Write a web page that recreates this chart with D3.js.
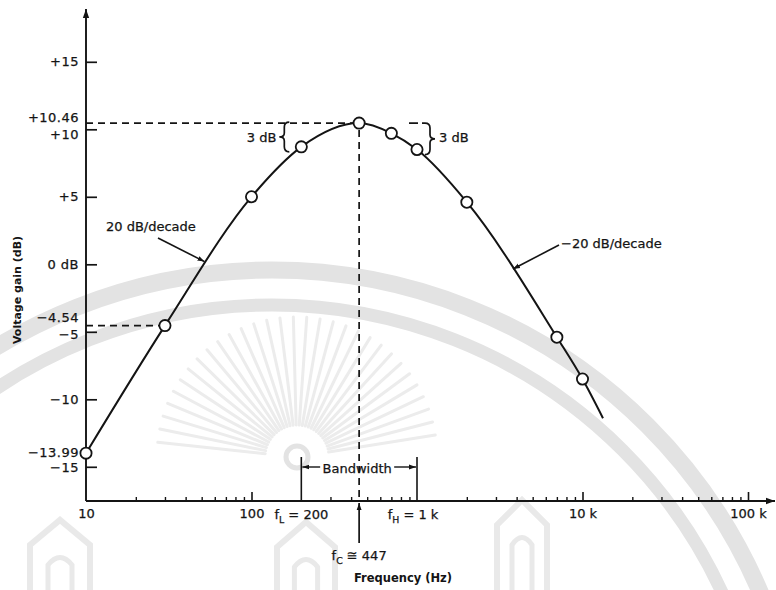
<!DOCTYPE html>
<html>
<head>
<meta charset="utf-8">
<script src="https://cdn.jsdelivr.net/npm/d3@7"></script>
<style>
  html, body { margin: 0; padding: 0; background: #fff; }
  svg { display: block; }
  text { font-family: "DejaVu Sans", "Liberation Sans", Arial, sans-serif; fill: #141414; }
</style>
</head>
<body>
<svg id="chart" width="776" height="590"></svg>
<script>
// Gain of the band-pass network: frequency (Hz) and voltage gain (dB)
const freqHz = [10, 30, 100, 200, 447, 700, 1000, 2000, 7000, 10000];
const gainDb = [-13.99, -4.54, 5.0, 8.7, 10.46, 9.7, 8.5, 4.6, -5.4, -8.5];
// the drawn response continues a little beyond the last plotted point
const tailHz = [13300];
const tailDb = [-11.4];

const yTickValues = [15, 10, 5, 0, -5, -10, -15];
const yTickLabels = ["+15", "+10", "+5", "0 dB", "\u22125", "\u221210", "\u221215"];
const yMarkValues = [10.46, -4.54, -13.99];
const yMarkLabels = ["+10.46", "\u22124.54", "\u221213.99"];

const xDecadeValues = [10, 100, 10000, 100000];
const xDecadeLabels = ["10", "100", "10 k", "100 k"];

const fLow = 200, fHigh = 1000, fCenter = 447;
const peakDb = 10.46;

const svg = d3.select("#chart");
const ink = "#141414";
const FS = 13;

const x = d3.scaleLog().domain([10, 100000]).range([86, 748]);
const y = d3.scaleLinear().domain([-15, 15]).range([466.8, 61.8]);
const axisY = 501;      // baseline of the frequency axis
const axisX = x(10);    // position of the gain axis

// ---- faint seal printed behind the figure ----
const seal = svg.append("g").attr("fill", "none").attr("stroke", "#e3e3e3");
seal.append("circle").attr("cx", 272).attr("cy", 801).attr("r", 531).attr("stroke-width", 17);
seal.append("circle").attr("cx", 272).attr("cy", 801).attr("r", 496).attr("stroke-width", 13);
const sunX = 297, sunY = 457;
d3.range(-174, -5, 5.5).forEach(a => {
  const r = a * Math.PI / 180;
  seal.append("line")
    .attr("x1", sunX + 32 * Math.cos(r)).attr("y1", sunY + 32 * Math.sin(r))
    .attr("x2", sunX + 140 * Math.cos(r)).attr("y2", sunY + 140 * Math.sin(r))
    .attr("stroke", "#ececec").attr("stroke-width", 3).attr("stroke-linecap", "round");
});
seal.append("circle").attr("cx", sunX).attr("cy", sunY).attr("r", 11).attr("stroke-width", 5);
// towers along the lower edge
[[30, 520, 60], [277, 522, 58], [497, 500, 50]].forEach(([tx, ty, tw]) => {
  seal.append("path")
    .attr("d", `M${tx},590 L${tx},${ty + 25} L${tx + tw / 2},${ty} L${tx + tw},${ty + 25} L${tx + tw},590`)
    .attr("stroke", "#e9e9e9").attr("stroke-width", 6);
  seal.append("path")
    .attr("d", `M${tx + tw * 0.3},590 L${tx + tw * 0.3},${ty + 45} Q${tx + tw / 2},${ty + 30} ${tx + tw * 0.7},${ty + 45} L${tx + tw * 0.7},590`)
    .attr("stroke", "#e9e9e9").attr("stroke-width", 5);
});

// ---- arrow markers ----
const defs = svg.append("defs");
defs.append("marker").attr("id", "head").attr("viewBox", "0 0 10 10")
  .attr("refX", 10).attr("refY", 5).attr("markerWidth", 7).attr("markerHeight", 7)
  .attr("markerUnits", "userSpaceOnUse").attr("orient", "auto")
  .append("path").attr("d", "M0,1.5 L10,5 L0,8.5 Z").attr("fill", ink);
defs.append("marker").attr("id", "axhead").attr("viewBox", "0 0 10 10")
  .attr("refX", 10).attr("refY", 5).attr("markerWidth", 9).attr("markerHeight", 9)
  .attr("markerUnits", "userSpaceOnUse").attr("orient", "auto")
  .append("path").attr("d", "M0,1.5 L10,5 L0,8.5 Z").attr("fill", ink);

function label(sel) {
  return sel.attr("font-family", "DejaVu Sans, sans-serif").attr("font-size", FS)
    .attr("fill", ink).attr("stroke", ink).attr("stroke-width", 0.25);
}

// ---- gain axis ----
const gY = svg.append("g").attr("transform", `translate(${axisX},0)`)
  .call(d3.axisLeft(y).tickValues(yTickValues)
    .tickFormat((d, i) => yTickLabels[i])
    .tickSizeInner(-11).tickSizeOuter(0).tickPadding(7));
gY.select(".domain").remove();
gY.selectAll(".tick line").attr("stroke", ink).attr("stroke-width", 1.7);
label(gY.selectAll(".tick text")).attr("letter-spacing", 0.5)
  .attr("transform", d => `translate(0,${d === 10 ? 5 : d === -5 ? 3 : d === -15 ? 1 : 0})`);

const marks = svg.append("g").attr("text-anchor", "end");
yMarkValues.forEach((v, i) => {
  label(marks.append("text")).attr("letter-spacing", 0.5).attr("x", axisX - 7)
    .attr("y", y(v) + (v > 0 ? -6 : v > -10 ? -8 : -1)).attr("dy", "0.35em")
    .text(yMarkLabels[i]);
});

svg.append("line").attr("x1", axisX).attr("x2", axisX)
  .attr("y1", axisY).attr("y2", 9)
  .attr("stroke", ink).attr("stroke-width", 1.9).attr("marker-end", "url(#axhead)");

// ---- frequency axis ----
const minorTicks = x.ticks().filter(f => !xDecadeValues.includes(f) && f !== fLow && f !== fHigh);
const gMinor = svg.append("g").attr("transform", `translate(0,${axisY})`)
  .call(d3.axisBottom(x).tickValues(minorTicks).tickFormat("")
    .tickSizeInner(-4).tickSizeOuter(0));
gMinor.select(".domain").remove();
gMinor.selectAll(".tick line").attr("stroke", ink).attr("stroke-width", 1.4);

const gX = svg.append("g").attr("transform", `translate(0,${axisY})`)
  .call(d3.axisBottom(x).tickValues(xDecadeValues)
    .tickFormat((d, i) => xDecadeLabels[i])
    .tickSizeInner(-9).tickSizeOuter(0).tickPadding(8));
gX.select(".domain").remove();
gX.selectAll(".tick line").attr("stroke", ink).attr("stroke-width", 1.6)
  .filter(d => d === 10).remove();
label(gX.selectAll(".tick text"));

svg.append("line").attr("x1", axisX).attr("x2", 775)
  .attr("y1", axisY).attr("y2", axisY)
  .attr("stroke", ink).attr("stroke-width", 1.9).attr("marker-end", "url(#axhead)");

// f_L and f_H labels under the axis
function subLabel(cx, base, sub, rest) {
  const t = label(svg.append("text")).attr("x", cx).attr("y", base)
    .attr("text-anchor", "middle");
  t.append("tspan").text("f");
  t.append("tspan").attr("font-size", FS * 0.72).attr("dy", 4).text(sub);
  t.append("tspan").attr("dy", -4).text(rest);
  return t;
}
subLabel(x(fLow), 519, "L", " = 200");
subLabel(x(fHigh) - 4, 519, "H", " = 1 k");

// bandwidth markers
[fLow, fHigh].forEach(f => {
  svg.append("line").attr("x1", x(f)).attr("x2", x(f))
    .attr("y1", 457).attr("y2", axisY).attr("stroke", ink).attr("stroke-width", 1.6);
});
const bwMid = (x(fLow) + x(fHigh)) / 2 - 2;
label(svg.append("text")).attr("x", bwMid).attr("y", 468).attr("dy", "0.35em")
  .attr("text-anchor", "middle").text("Bandwidth");
svg.append("line").attr("x1", bwMid - 37).attr("x2", x(fLow) + 1)
  .attr("y1", 467).attr("y2", 467).attr("stroke", ink).attr("stroke-width", 1.4)
  .attr("marker-end", "url(#head)");
svg.append("line").attr("x1", bwMid + 37).attr("x2", x(fHigh) - 1)
  .attr("y1", 467).attr("y2", 467).attr("stroke", ink).attr("stroke-width", 1.4)
  .attr("marker-end", "url(#head)");

// ---- guide lines to the labelled values ----
const dash = "7,5";
svg.append("line").attr("x1", axisX).attr("x2", x(fCenter) - 5)
  .attr("y1", y(peakDb)).attr("y2", y(peakDb))
  .attr("stroke", ink).attr("stroke-width", 1.7).attr("stroke-dasharray", dash);
svg.append("line").attr("x1", x(fCenter)).attr("x2", x(fCenter))
  .attr("y1", y(peakDb) + 7).attr("y2", axisY)
  .attr("stroke", ink).attr("stroke-width", 1.7).attr("stroke-dasharray", dash);
svg.append("line").attr("x1", axisX).attr("x2", x(freqHz[1]) - 5)
  .attr("y1", y(gainDb[1])).attr("y2", y(gainDb[1]))
  .attr("stroke", ink).attr("stroke-width", 1.7).attr("stroke-dasharray", dash);
svg.append("line").attr("x1", x(fHigh) - 8).attr("x2", x(fHigh) + 8)
  .attr("y1", y(peakDb)).attr("y2", y(peakDb))
  .attr("stroke", ink).attr("stroke-width", 1.7).attr("stroke-dasharray", "9,4");

// f_C pointer below the axis
svg.append("line").attr("x1", x(fCenter)).attr("x2", x(fCenter))
  .attr("y1", 543).attr("y2", axisY + 2)
  .attr("stroke", ink).attr("stroke-width", 1.7).attr("marker-end", "url(#head)");
const fc = label(svg.append("text")).attr("x", x(fCenter)).attr("y", 560)
  .attr("text-anchor", "middle");
fc.append("tspan").text("f");
fc.append("tspan").attr("font-size", FS * 0.72).attr("dy", 4).text("C");
fc.append("tspan").attr("dy", -4).text(" \u2245 447");

// ---- 3 dB braces ----
function brace(bx, top, bot, dir) {
  const mid = (top + bot) / 2, w = 5 * dir;
  const p = `M${bx + w},${top} Q${bx},${top} ${bx},${top + 5} L${bx},${mid - 4}
    Q${bx},${mid} ${bx - w},${mid} Q${bx},${mid} ${bx},${mid + 4}
    L${bx},${bot - 5} Q${bx},${bot} ${bx + w},${bot}`;
  svg.append("path").attr("d", p).attr("fill", "none")
    .attr("stroke", ink).attr("stroke-width", 1.7);
}
brace(x(fLow) - 17, y(peakDb) - 1, y(gainDb[3]) + 5, 1);
brace(x(fHigh) + 13, y(peakDb), y(gainDb[6]) + 5, -1);
label(svg.append("text")).attr("x", x(fLow) - 25).attr("y", 137).attr("dy", "0.35em")
  .attr("text-anchor", "end").text("3 dB");
label(svg.append("text")).attr("x", x(fHigh) + 22).attr("y", 137).attr("dy", "0.35em")
  .text("3 dB");

// ---- slope annotations ----
label(svg.append("text")).attr("x", 106).attr("y", 226).attr("dy", "0.35em")
  .text("20 dB/decade");
svg.append("line").attr("x1", 158).attr("y1", 238).attr("x2", x(52)).attr("y2", y(0.2))
  .attr("stroke", ink).attr("stroke-width", 1.6).attr("marker-end", "url(#head)");
label(svg.append("text")).attr("x", 561).attr("y", 243).attr("dy", "0.35em")
  .text("\u221220 dB/decade");
svg.append("line").attr("x1", 559).attr("y1", 245).attr("x2", x(3800)).attr("y2", y(-0.35))
  .attr("stroke", ink).attr("stroke-width", 1.6).attr("marker-end", "url(#head)");

// ---- response curve and plotted points ----
const pts = freqHz.map((f, i) => ({ f, g: gainDb[i] }));
const curvePts = pts.concat(tailHz.map((f, i) => ({ f, g: tailDb[i] })));
svg.append("path").datum(curvePts)
  .attr("d", d3.line().x(d => x(d.f)).y(d => y(d.g)).curve(d3.curveMonotoneX))
  .attr("fill", "none").attr("stroke", ink).attr("stroke-width", 2);
svg.append("g").selectAll("circle").data(pts).join("circle")
  .attr("cx", d => x(d.f)).attr("cy", d => y(d.g)).attr("r", 5.6)
  .attr("fill", "#fff").attr("stroke", ink).attr("stroke-width", 1.8);

// ---- axis titles ----
svg.append("text").attr("transform", "translate(21,290) rotate(-90)")
  .attr("text-anchor", "middle").attr("font-family", "DejaVu Sans, sans-serif")
  .attr("font-size", 11).attr("font-weight", "bold").attr("fill", ink)
  .text("Voltage gain (dB)");
svg.append("text").attr("x", 403).attr("y", 578).attr("dy", "0.35em")
  .attr("text-anchor", "middle").attr("font-family", "Liberation Sans, Arial, sans-serif")
  .attr("font-size", 11.5).attr("font-weight", "bold").attr("fill", ink)
  .text("Frequency (Hz)");
</script>
</body>
</html>
